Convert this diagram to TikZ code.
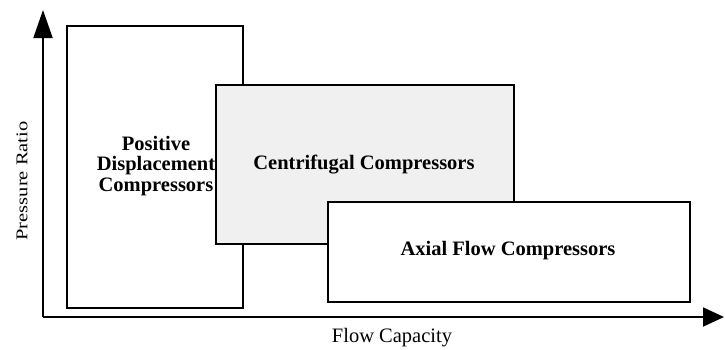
\documentclass[tikz,border=0pt]{standalone}
\usepackage{fontspec}
\setmainfont{Liberation Serif}
\usetikzlibrary{arrows.meta}
\begin{document}
\begin{tikzpicture}[x=1pt,y=-1pt,
  box/.style={draw=black,line width=1.8pt,fill=white,inner sep=0pt,anchor=north west,
    font=\fontsize{20.5}{20.5}\selectfont\bfseries,align=center},
  axis/.style={line width=1.9pt},
  lbl/.style={font=\fontsize{20.5}{20.5}\selectfont,inner sep=0pt}]
\useasboundingbox (0,0) rectangle (725,349);
% boxes
\node[box,minimum width=176pt,minimum height=282pt] (pd) at (66,25) {};
\node[align=center,font=\fontsize{20.5}{20.5}\selectfont\bfseries,inner sep=0pt] (pdt) at (156,166) {Positive\\Displacement\\Compressors};
\node[box,fill=gray!12,minimum width=298pt,minimum height=159pt] (cf) at (215,84) {};
\node[font=\fontsize{20.5}{20.5}\selectfont\bfseries,inner sep=0pt] (cft) at (364,165) {Centrifugal Compressors};
\node[box,minimum width=362pt,minimum height=100pt] (ax) at (327,201) {};
\node[font=\fontsize{20.5}{20.5}\selectfont\bfseries,inner sep=0pt] (axt) at (508,251) {Axial Flow Compressors};
% axes
\coordinate (o) at (43,317);
\coordinate (ytip) at (43,10);
\coordinate (xtip) at (724,317);
\draw[axis,-{Triangle[length=28pt,width=19pt]}] (o) -- (ytip);
\draw[axis,-{Triangle[length=21pt,width=19pt]}] (o) -- (xtip);
\node[lbl,rotate=90,yscale=0.8] (yl) at (22,181) {Pressure Ratio};
\node[lbl] (xl) at (392,338) {Flow Capacity};
\end{tikzpicture}
\end{document}
